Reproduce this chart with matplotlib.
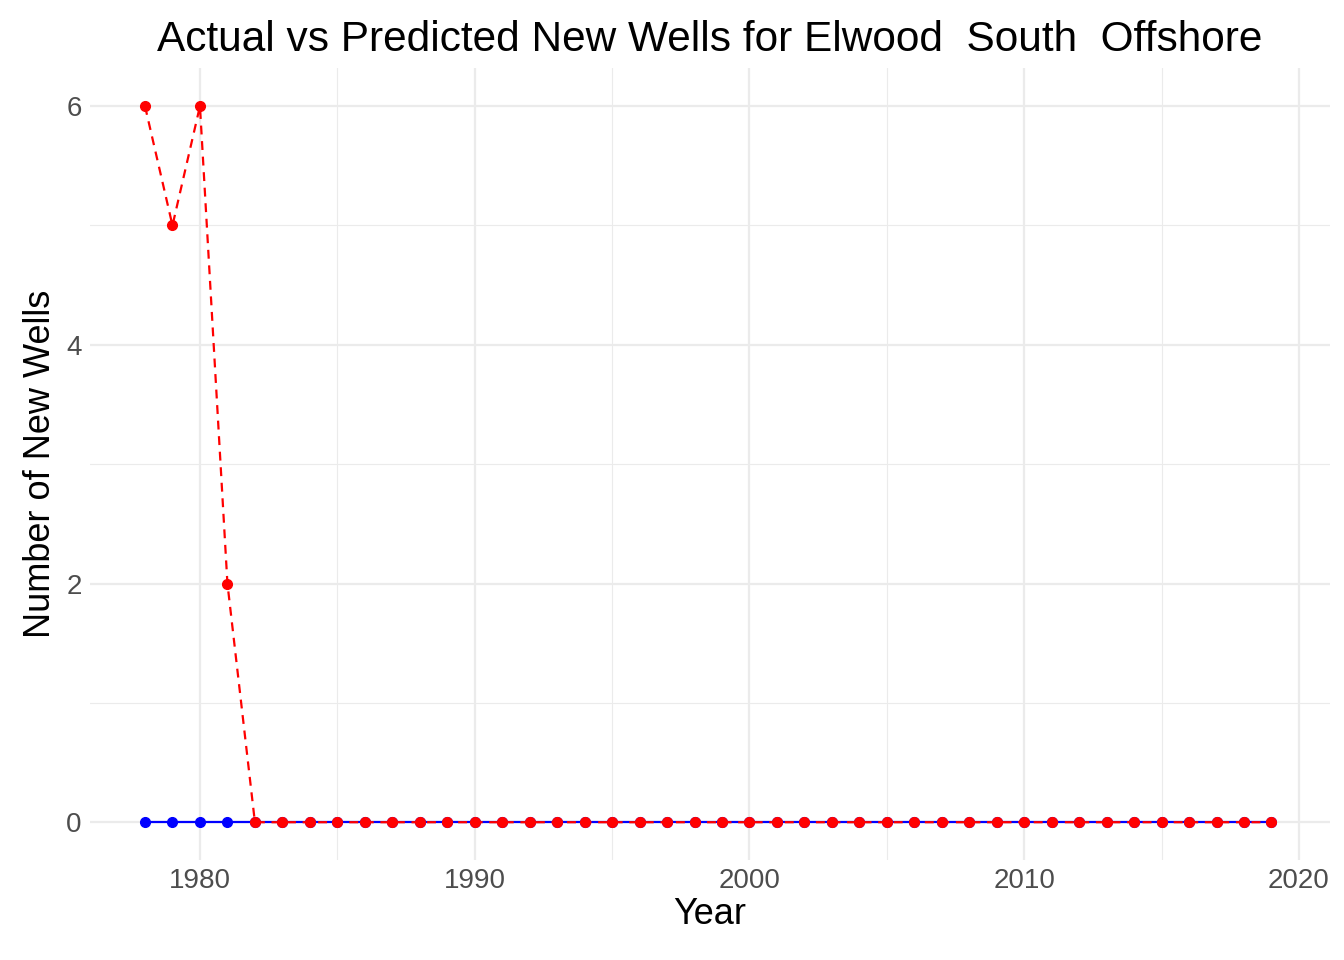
import matplotlib
matplotlib.use("Agg")
import matplotlib.pyplot as plt

years = list(range(1978, 2020))
actual = [0] * len(years)
predicted = [6, 5, 6, 2] + [0] * (len(years) - 4)

plt.rcParams["font.family"] = ["Liberation Sans", "DejaVu Sans"]

fig = plt.figure(figsize=(13.44, 9.6), dpi=100)
ax = fig.add_axes([0.067, 0.104, 0.9226, 0.825])

ax.plot(years, actual, color="blue", linewidth=1.6, marker="o", markersize=7, zorder=3)
ax.plot(years, predicted, color="red", linewidth=1.6, linestyle=(0, (4, 3)),
        marker="o", markersize=7, zorder=4)

ax.set_xlim(1976.0, 2021.13)
ax.set_ylim(-0.318, 6.318)
ax.set_xticks([1980, 1990, 2000, 2010, 2020])
ax.set_xticks([1985, 1995, 2005, 2015], minor=True)
ax.set_yticks([0, 2, 4, 6])
ax.set_yticks([1, 3, 5], minor=True)
ax.grid(True, which="major", color="#ebebeb", linewidth=1.6)
ax.grid(True, which="minor", color="#ebebeb", linewidth=0.8)
ax.set_axisbelow(True)
for s in ax.spines.values():
    s.set_visible(False)
ax.tick_params(which="both", length=0, labelsize=20, labelcolor="#4d4d4d", pad=6)

ax.set_xlabel("Year", fontsize=26, labelpad=2)
ax.set_ylabel("Number of New Wells", fontsize=26, labelpad=6)
ax.set_title("Actual vs Predicted New Wells for Elwood  South  Offshore", fontsize=30.5, pad=12)

fig.savefig("out.png", dpi=100)
